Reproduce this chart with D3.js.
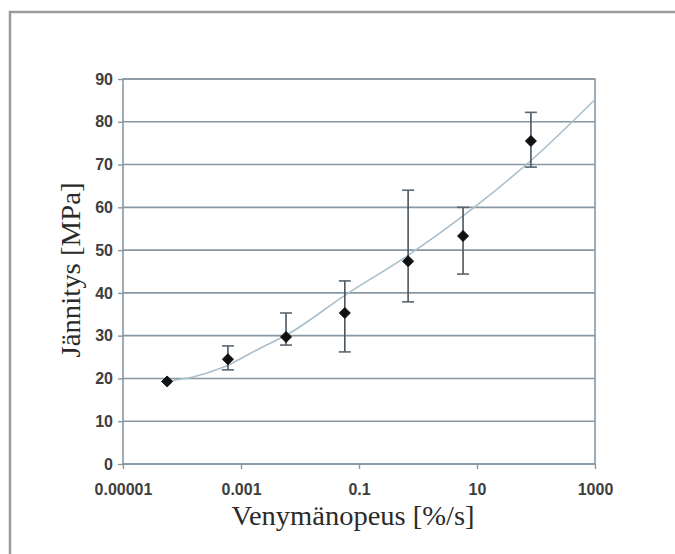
<!DOCTYPE html>
<html>
<head>
<meta charset="utf-8">
<script src="https://cdn.jsdelivr.net/npm/d3@7"></script>
<style>
html,body{margin:0;padding:0;background:#fff;}
svg{display:block;}
</style>
</head>
<body>
<svg id="chart" width="675" height="554"></svg>
<script>
// Data
const rates   = [5.6e-5, 6.0e-4, 0.0058, 0.0575, 0.68, 5.8, 82];      // strain rate [%/s]
const stress  = [19.3, 24.5, 29.7, 35.3, 47.4, 53.3, 75.5];            // mean stress [MPa]
const errHigh = [19.8, 27.6, 35.3, 42.8, 64.0, 60.0, 82.2];
const errLow  = [18.8, 22.0, 27.8, 26.2, 37.9, 44.4, 69.4];
const trendX  = [5.2e-5, 1.6e-4, 5e-4, 2e-3, 6e-3, 0.06, 0.65, 10, 100, 1000];
const trendY  = [19.3, 20.4, 22.6, 26.9, 30.2, 39.6, 48.6, 60.5, 72.0, 85.2];
const xTicks  = [0.00001, 0.001, 0.1, 10, 1000];
const xTickLabels = ["0.00001", "0.001", "0.1", "10", "1000"];
const yTicks  = [0, 10, 20, 30, 40, 50, 60, 70, 80, 90];

(function () {
const svg = d3.select("#chart");

// outer frame
svg.append("path")
  .attr("d", "M10,560 L10,12 L680,12")
  .attr("fill", "none").attr("stroke", "#9a9a9a").attr("stroke-width", 2.5);

svg.append("defs").append("clipPath").attr("id", "imgclip")
  .append("rect").attr("x", 40).attr("y", 60).attr("width", 573).attr("height", 475);

const g = svg.append("g").attr("clip-path", "url(#imgclip)");

const pL = 123, pR = 595, pT = 79, pB = 464;
const x = d3.scaleLog().domain([0.00001, 1000]).range([pL, pR]);
const y = d3.scaleLinear().domain([0, 90]).range([pB, pT]);

const gridColor = "#8797a3";
const labelFont = "Liberation Sans, Arial, sans-serif";

// horizontal gridlines
g.append("g").selectAll("line").data(yTicks).join("line")
  .attr("x1", pL).attr("x2", pR)
  .attr("y1", d => y(d)).attr("y2", d => y(d))
  .attr("stroke", gridColor).attr("stroke-width", 1.6);

// plot frame
g.append("rect").attr("x", pL).attr("y", pT)
  .attr("width", pR - pL).attr("height", pB - pT)
  .attr("fill", "none").attr("stroke", gridColor).attr("stroke-width", 1.6);

// y axis
const yAxis = g.append("g").attr("transform", `translate(${pL},0)`)
  .call(d3.axisLeft(y).tickValues(yTicks).tickSize(5).tickPadding(5).tickFormat(d3.format("d")));
yAxis.select(".domain").remove();
yAxis.selectAll("line").attr("stroke", gridColor).attr("stroke-width", 1.4);
yAxis.selectAll("text").attr("font-family", labelFont)
  .attr("font-size", 16).attr("font-weight", "bold").attr("fill", "#3e3e3e");

// x axis
const xAxis = g.append("g").attr("transform", `translate(0,${pB})`)
  .call(d3.axisBottom(x).tickValues(xTicks).tickSize(5).tickPadding(15)
    .tickFormat((d, i) => xTickLabels[i]));
xAxis.select(".domain").remove();
xAxis.selectAll("line").attr("stroke", gridColor).attr("stroke-width", 1.4);
xAxis.selectAll("text").attr("font-family", labelFont)
  .attr("font-size", 16).attr("font-weight", "bold").attr("fill", "#3e3e3e");

// trend line
const line = d3.line().x(d => x(d[0])).y(d => y(d[1])).curve(d3.curveMonotoneX);
g.append("path").datum(trendX.map((v, i) => [v, trendY[i]]))
  .attr("d", line).attr("fill", "none")
  .attr("stroke", "#a9bfcc").attr("stroke-width", 1.6);

// error bars
const eb = g.append("g");
const pts = rates.map((r, i) => ({r, s: stress[i], hi: errHigh[i], lo: errLow[i]}));
eb.selectAll("line.v").data(pts.slice(1)).join("line").attr("class", "v")
  .attr("x1", d => x(d.r)).attr("x2", d => x(d.r))
  .attr("y1", d => y(d.hi)).attr("y2", d => y(d.lo))
  .attr("stroke", "#4a5560").attr("stroke-width", 1.6);
eb.selectAll("line.cap").data(pts.slice(1).flatMap(d => [{r: d.r, v: d.hi}, {r: d.r, v: d.lo}]))
  .join("line").attr("class", "cap")
  .attr("x1", d => x(d.r) - 6).attr("x2", d => x(d.r) + 6)
  .attr("y1", d => y(d.v)).attr("y2", d => y(d.v))
  .attr("stroke", "#5a6570").attr("stroke-width", 1.6);

// markers (diamonds)
const dm = 5.5;
g.append("g").selectAll("path").data(pts).join("path")
  .attr("transform", d => `translate(${x(d.r)},${y(d.s)})`)
  .attr("d", `M0,${-dm}L${dm},0L0,${dm}L${-dm},0Z`)
  .attr("fill", "#111").attr("stroke", "#111").attr("stroke-width", 1).attr("stroke-linejoin", "round");

// axis titles
g.append("text")
  .attr("x", 353).attr("y", 525)
  .attr("text-anchor", "middle")
  .attr("font-family", "Liberation Serif, Times New Roman, serif")
  .attr("font-size", 27).attr("fill", "#2a2a2a")
  .attr("textLength", 243).attr("lengthAdjust", "spacingAndGlyphs")
  .text("Venymänopeus [%/s]");

g.append("text")
  .attr("transform", "translate(80,270) rotate(-90)")
  .attr("text-anchor", "middle")
  .attr("font-family", "Liberation Serif, Times New Roman, serif")
  .attr("font-size", 27).attr("fill", "#2a2a2a")
  .attr("textLength", 175).attr("lengthAdjust", "spacingAndGlyphs")
  .text("Jännitys [MPa]");
})();
</script>
</body>
</html>
